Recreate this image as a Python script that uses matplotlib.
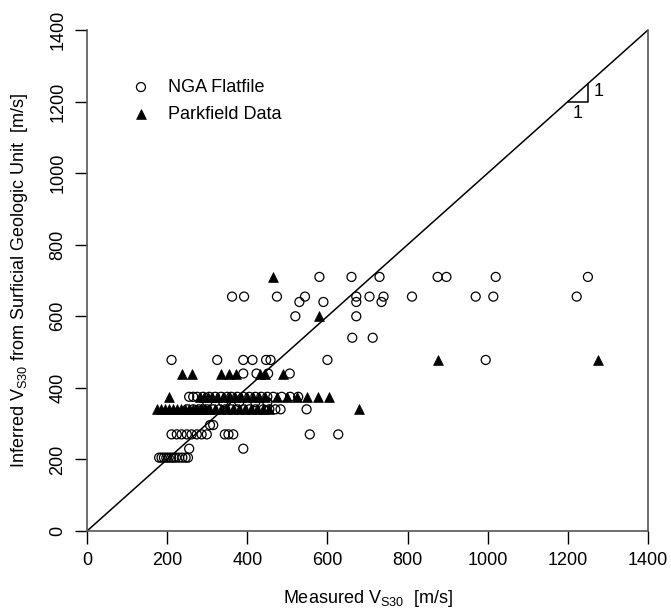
import matplotlib
matplotlib.use("Agg")
import matplotlib.pyplot as plt
import numpy as np

plt.rcParams['font.family'] = ['Liberation Sans', 'DejaVu Sans']

# NGA Flatfile (open circles): measured x, inferred y
nga_x = [180, 186, 192, 198, 204, 210, 216, 222, 230, 238, 246, 252,
         255, 390,
         211, 224, 236, 249, 261, 274, 286, 299, 344, 353, 365, 556, 627,
         307, 315,
         250, 265, 280, 290, 300, 315, 330, 345, 360, 375, 390, 405, 420, 440, 455, 470, 483, 548,
         300, 340, 380, 420, 450,
         255, 265, 275, 290, 305, 320, 335, 350, 360, 375, 390, 405, 420, 435, 450, 465, 486, 507, 527,
         390, 423, 452, 506,
         211, 325, 390, 413, 447, 458, 600, 995,
         662, 713,
         520, 672,
         530, 590, 672, 735,
         362, 392, 474, 544, 672, 705, 740, 811, 970, 1014, 1222,
         580, 660, 730, 875, 897, 1020, 1250]
nga_y = [205] * 12 + [230] * 2 + [270] * 13 + [296] * 2 + [340] * 18 + [360] * 5 + \
        [375] * 19 + [440] * 4 + [478] * 8 + [540] * 2 + [600] * 2 + [640] * 4 + \
        [655] * 11 + [710] * 7

# Parkfield data (filled triangles)
pk_x = [175, 185, 195, 205, 215, 225, 235, 245, 255, 265, 275, 285, 295, 305, 320, 335,
        350, 365, 380, 395, 410, 425, 440, 455, 680,
        205, 282, 292, 302, 312, 325, 340, 355, 370, 385, 400, 415, 430, 445, 473, 498, 523,
        548, 577, 605,
        236, 261, 334, 354, 372, 432, 444, 490,
        877, 1276,
        580,
        464]
pk_y = [340] * 25 + [375] * 20 + [440] * 8 + [478] * 2 + [600] + [710]

fig = plt.figure(figsize=(6.71, 6.14), dpi=100)
ax = fig.add_axes([87 / 671, 1 - 531 / 614, (648 - 87) / 671, (531 - 30) / 614])

ax.plot([0, 1400], [0, 1400], color='black', lw=1.1, zorder=1)
ax.scatter(nga_x, nga_y, s=42, facecolors='none', edgecolors='black', linewidths=0.9,
           marker='o', label='NGA Flatfile', zorder=3)
ax.scatter(pk_x, pk_y, s=50, facecolors='black', edgecolors='black', linewidths=0.5,
           marker='^', label='Parkfield Data', zorder=4)

# slope triangle
ax.plot([1200, 1250, 1250], [1200, 1200, 1250], color='black', lw=1.1)
ax.text(1277, 1228, '1', fontsize=13, ha='center', va='center')
ax.text(1225, 1168, '1', fontsize=13, ha='center', va='center')

ax.set_xlim(0, 1400)
ax.set_ylim(0, 1400)
ticks = [0, 200, 400, 600, 800, 1000, 1200, 1400]
ax.set_xticks(ticks)
ax.set_yticks(ticks)
ax.set_yticklabels([str(t) for t in ticks], rotation=90, va='center')
ax.tick_params(direction='out', length=9, width=1, colors='black', labelsize=13, pad=6)
for side in ['left', 'bottom', 'right']:
    ax.spines[side].set_color('#555555')
    ax.spines[side].set_linewidth(1.2)
ax.spines['top'].set_visible(False)

ax.set_xlabel('Measured V$_{\\mathregular{S30}}$  [m/s]', fontsize=13, labelpad=14)
ax.set_ylabel('Inferred V$_{\\mathregular{S30}}$ from Surficial Geologic Unit  [m/s]',
              fontsize=13, labelpad=14)

ax.legend(loc='upper left', bbox_to_anchor=(0.035, 0.935), frameon=False, fontsize=13,
          handletextpad=0.5, labelspacing=0.55, scatterpoints=1)

fig.savefig('out.png', dpi=100)
